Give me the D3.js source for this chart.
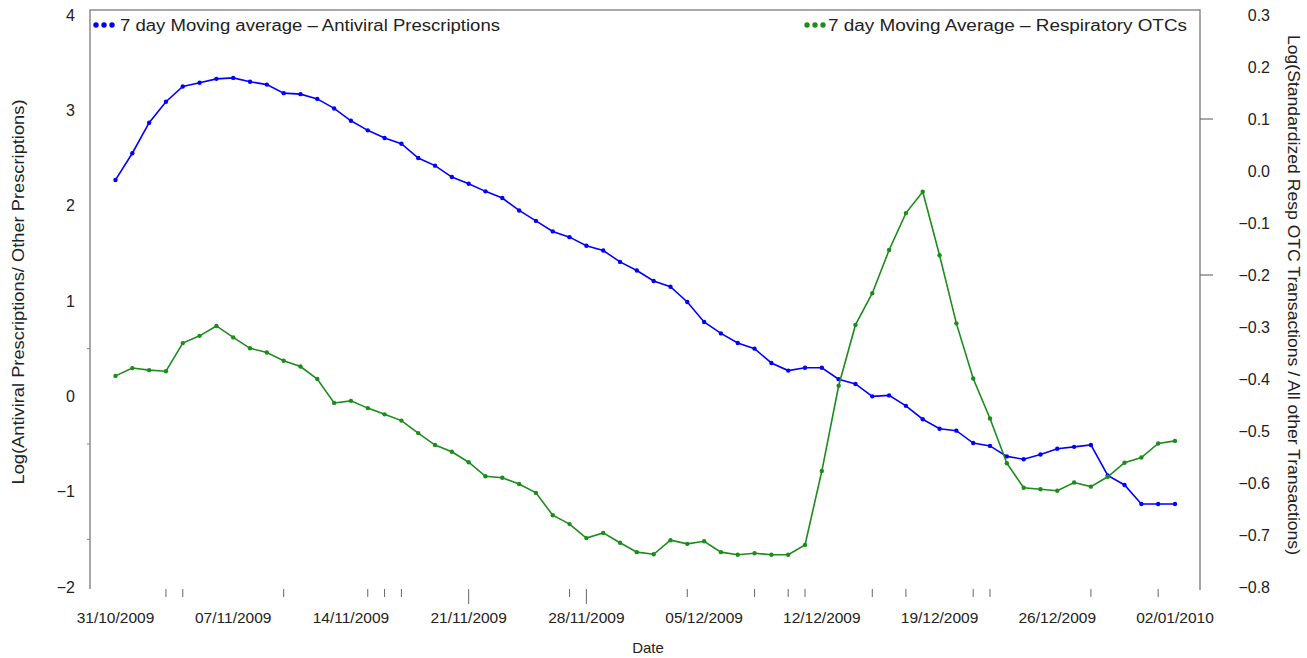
<!DOCTYPE html>
<html>
<head>
<meta charset="utf-8">
<script src="https://cdn.jsdelivr.net/npm/d3@7"></script>
<style>
  body { margin: 0; background: #fff; }
  text { font-family: "Liberation Sans", Arial, sans-serif; fill: #222; }
</style>
</head>
<body>
<div id="chart"></div>
<script>
// daily points, 31/10/2009 .. 02/01/2010
const START_DATE = '2009-10-31';
const END_DATE = '2010-01-02';

const antiviral = [2.27, 2.55, 2.87, 3.09, 3.25, 3.29, 3.33, 3.34, 3.30, 3.27,
    3.18, 3.17, 3.12, 3.02, 2.89, 2.79, 2.71, 2.65, 2.50, 2.42,
    2.30, 2.23, 2.15, 2.08, 1.95, 1.84, 1.73, 1.67, 1.58, 1.53,
    1.41, 1.32, 1.21, 1.15, 0.99, 0.78, 0.66, 0.56, 0.50, 0.35,
    0.27, 0.30, 0.30, 0.18, 0.13, 0.00, 0.01, -0.10, -0.24, -0.34,
    -0.36, -0.49, -0.52, -0.63, -0.66, -0.61, -0.55, -0.53, -0.51, -0.83,
    -0.93, -1.13, -1.13, -1.13];

const respOtc = [-0.394, -0.379, -0.383, -0.385, -0.331, -0.317, -0.298, -0.320, -0.341, -0.349,
    -0.365, -0.376, -0.400, -0.446, -0.442, -0.456, -0.468, -0.480, -0.504, -0.527,
    -0.540, -0.560, -0.587, -0.590, -0.602, -0.619, -0.662, -0.679, -0.706, -0.696,
    -0.715, -0.733, -0.737, -0.710, -0.717, -0.712, -0.733, -0.738, -0.735, -0.738,
    -0.738, -0.719, -0.577, -0.413, -0.296, -0.235, -0.152, -0.081, -0.040, -0.162,
    -0.293, -0.399, -0.476, -0.562, -0.609, -0.612, -0.615, -0.599, -0.607, -0.588,
    -0.561, -0.551, -0.524, -0.519];

const dateLabels = ['2009-10-31', '2009-11-07', '2009-11-14', '2009-11-21', '2009-11-28',
    '2009-12-05', '2009-12-12', '2009-12-19', '2009-12-26', '2010-01-02'];
const shortTicks = ['2009-11-03', '2009-11-04', '2009-11-10', '2009-11-15', '2009-11-16',
    '2009-11-17', '2009-11-27', '2009-12-04', '2009-12-08', '2009-12-10', '2009-12-11',
    '2009-12-15', '2009-12-17', '2009-12-21', '2009-12-22', '2009-12-28', '2010-01-01'];
const longTicks = ['2009-11-21', '2009-11-28'];

const leftTicks = [4, 3, 2, 1, 0, -1, -2];
const leftMinor = [0.5, -0.5, -1.5];
const rightTicks = [0.3, 0.2, 0.1, 0.0, -0.1, -0.2, -0.3, -0.4, -0.5, -0.6, -0.7, -0.8];
const rightMajor = [0.1, -0.2];

const W = 1307, H = 658;
const BLUE = '#0000ff', GREEN = '#1c8c1c', AXIS = '#8a8a8a';

const parse = d3.utcParse('%Y-%m-%d');
const fmt = d3.utcFormat('%d/%m/%Y');
const days = d3.utcDay.range(parse(START_DATE), d3.utcDay.offset(parse(END_DATE), 1));

const x = d3.scaleUtc().domain([parse(START_DATE), parse(END_DATE)]).range([115.5, 1175]);
const yL = d3.scaleLinear().domain([-2, 4]).range([587, 15]);
const yR = d3.scaleLinear().domain([-0.8, 0.3]).range([587, 15]);

const svg = d3.select('#chart').append('svg')
    .attr('width', W)
    .attr('height', H)
    .attr('viewBox', '0 0 ' + W + ' ' + H);

// frame: left, top, right (open at the bottom)
svg.append('path')
    .attr('d', 'M90,589V10H1200V590')
    .attr('fill', 'none')
    .attr('stroke', AXIS)
    .attr('stroke-width', 1.5);

// left axis labels
svg.append('g').selectAll('text')
    .data(leftTicks)
    .enter().append('text')
    .attr('x', 75)
    .attr('y', d => yL(d))
    .attr('dy', '0.35em')
    .attr('text-anchor', 'end')
    .style('font-size', '16px')
    .text(d => d < 0 ? '\u2212' + Math.abs(d) : d);

svg.append('g').selectAll('line')
    .data(leftMinor)
    .enter().append('line')
    .attr('x1', 87).attr('x2', 90)
    .attr('y1', d => yL(d)).attr('y2', d => yL(d))
    .attr('stroke', AXIS);

// right axis labels
svg.append('g').selectAll('text')
    .data(rightTicks)
    .enter().append('text')
    .attr('x', 1270)
    .attr('y', d => yR(d))
    .attr('dy', '0.35em')
    .attr('text-anchor', 'end')
    .style('font-size', '16px')
    .text(d => (d < 0 ? '\u2212' : '') + Math.abs(d).toFixed(1));

svg.append('g').selectAll('line')
    .data(rightMajor)
    .enter().append('line')
    .attr('x1', 1200).attr('x2', 1213)
    .attr('y1', d => yR(d)).attr('y2', d => yR(d))
    .attr('stroke', '#555');

// x axis: date labels and the scattered tick marks
svg.append('g').selectAll('text')
    .data(dateLabels.map(parse))
    .enter().append('text')
    .attr('x', d => x(d))
    .attr('y', 623)
    .attr('text-anchor', 'middle')
    .style('font-size', '15.5px')
    .text(d => fmt(d));

svg.append('g').selectAll('line')
    .data(shortTicks.map(parse))
    .enter().append('line')
    .attr('x1', d => x(d)).attr('x2', d => x(d))
    .attr('y1', 589).attr('y2', 597)
    .attr('stroke', '#666');

svg.append('g').selectAll('line')
    .data(longTicks.map(parse))
    .enter().append('line')
    .attr('x1', d => x(d)).attr('x2', d => x(d))
    .attr('y1', 589).attr('y2', 604)
    .attr('stroke', '#666');

// axis titles
svg.append('text')
    .attr('transform', 'translate(648,653)')
    .attr('text-anchor', 'middle')
    .style('font-size', '15px')
    .text('Date');

svg.append('text')
    .attr('transform', 'translate(24,292)rotate(-90)')
    .attr('text-anchor', 'middle')
    .attr('textLength', 385)
    .attr('lengthAdjust', 'spacingAndGlyphs')
    .style('font-size', '16px')
    .text('Log(Antiviral Prescriptions/ Other Prescriptions)');

svg.append('text')
    .attr('transform', 'translate(1288,295)rotate(90)')
    .attr('text-anchor', 'middle')
    .attr('textLength', 520)
    .attr('lengthAdjust', 'spacingAndGlyphs')
    .style('font-size', '16px')
    .text('Log(Standardized Resp OTC Transactions / All other Transactions)');

// series
function drawSeries(values, yScale, color) {
    const pts = values.map((v, i) => ({ date: days[i], value: v }));
    const line = d3.line()
        .x(d => x(d.date))
        .y(d => yScale(d.value));
    svg.append('path')
        .datum(pts)
        .attr('d', line)
        .attr('fill', 'none')
        .attr('stroke', color)
        .attr('stroke-width', 1.6);
    svg.append('g').selectAll('circle')
        .data(pts)
        .enter().append('circle')
        .attr('cx', d => x(d.date))
        .attr('cy', d => yScale(d.value))
        .attr('r', 2.2)
        .attr('fill', color);
}

drawSeries(antiviral, yL, BLUE);
drawSeries(respOtc, yR, GREEN);

// legends
function legend(x0, textX, width, label, color) {
    svg.append('g').selectAll('circle')
        .data([0, 1, 2])
        .enter().append('circle')
        .attr('cx', d => x0 + d * 8)
        .attr('cy', 25)
        .attr('r', 2.7)
        .attr('fill', color);
    svg.append('text')
        .attr('x', textX)
        .attr('y', 25)
        .attr('dy', '0.35em')
        .attr('textLength', width)
        .attr('lengthAdjust', 'spacingAndGlyphs')
        .style('font-size', '16px')
        .text(label);
}

legend(96, 120, 380, '7 day Moving average  \u2013  Antiviral Prescriptions', BLUE);
legend(807, 828, 359, '7 day Moving Average  \u2013  Respiratory OTCs', GREEN);
</script>
</body>
</html>
